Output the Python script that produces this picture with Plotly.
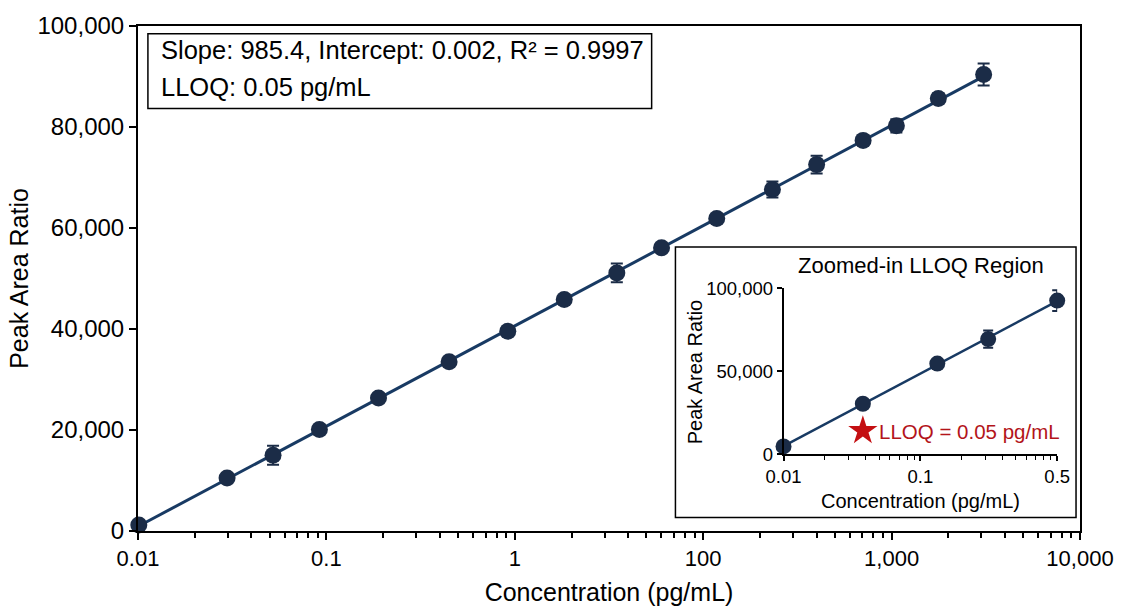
import numpy as np
import plotly.graph_objects as go

# ---------------- data ----------------
conc = [0.0101, 0.0297, 0.0521, 0.0918, 0.189, 0.448, 0.918, 1.83, 3.48, 6.01,
        11.8, 23.3, 40.0, 70.6, 106, 177, 308]
ratio = [1200, 10500, 15000, 20100, 26350, 33530, 39540, 45820, 51110, 56100,
         61860, 67620, 72550, 77350, 80230, 85660, 90400]
ratio_err = [300, 400, 1900, 500, 500, 600, 600, 700, 1870, 700,
             800, 1600, 1760, 900, 1300, 1000, 2180]

x_tickvals = [0.01, 0.1, 1, 10, 100, 1000]
x_ticktext = ["0.01", "0.1", "1", "100", "1,000", "10,000"]
y_tickvals = [0, 20000, 40000, 60000, 80000, 100000]

inset_conc = [0.01, 0.038, 0.133, 0.313, 1.0]
inset_ratio = [4850, 30530, 54700, 69470, 92640]
inset_err = [0, 0, 2500, 5150, 6300]
inset_x_tickvals = [0.01, 0.1, 1]
inset_x_ticktext = ["0.01", "0.1", "0.5"]
inset_y_tickvals = [0, 50000, 100000]

lloq_conc = [0.038]
lloq_ratio = [14300]

fit_text_1 = "Slope: 985.4, Intercept: 0.002, R\u00b2 = 0.9997"
fit_text_2 = "LLOQ: 0.05 pg/mL"

# ---------------- styling ----------------
FONT = "Liberation Sans, Arial, sans-serif"
NAVY = "#1b2c47"
LINE = "#183a63"
RED = "#c40f12"

def fit_line(xs, ys):
    lx = np.log10(np.array(xs, dtype=float))
    b, a = np.polyfit(lx, np.array(ys, dtype=float), 1)
    xe = np.array([xs[0], xs[-1]], dtype=float)
    return xe, a + b * np.log10(xe)

fx, fy = fit_line(conc, ratio)
ifx, ify = fit_line(inset_conc, inset_ratio)

fig = go.Figure()

# main chart
fig.add_trace(go.Scatter(x=fx, y=fy, mode="lines", line=dict(color=LINE, width=3),
                         xaxis="x", yaxis="y", hoverinfo="skip", cliponaxis=False))
fig.add_trace(go.Scatter(x=conc, y=ratio, mode="markers",
                         marker=dict(color=NAVY, size=17),
                         error_y=dict(type="data", array=ratio_err, color=NAVY,
                                      thickness=2, width=6),
                         xaxis="x", yaxis="y", cliponaxis=False))

# inset chart
fig.add_trace(go.Scatter(x=ifx, y=ify, mode="lines", line=dict(color=LINE, width=2.5),
                         xaxis="x2", yaxis="y2", hoverinfo="skip", cliponaxis=False))
fig.add_trace(go.Scatter(x=inset_conc, y=inset_ratio, mode="markers",
                         marker=dict(color=NAVY, size=16),
                         error_y=dict(type="data", array=inset_err, color=NAVY,
                                      thickness=2, width=5),
                         xaxis="x2", yaxis="y2", cliponaxis=False))
fig.add_trace(go.Scatter(x=lloq_conc, y=lloq_ratio, mode="markers",
                         marker=dict(symbol="star", color=RED, size=22),
                         xaxis="x2", yaxis="y2", cliponaxis=False))

main_minor = [k * 10.0 ** d for d in range(-2, 3) for k in range(2, 10)]
inset_minor = [k * 10.0 ** d for d in range(-2, 0) for k in range(2, 10)]

# plot area: x 138..1088, y 17..538
W, H = 1126, 614
L, R, T, B = 138, 38, 17, 76
PW, PH = W - L - R, H - T - B

def px(x):
    return (x - L) / PW

def py(y):
    return (H - B - y) / PH

fig.update_layout(
    width=W, height=H,
    margin=dict(l=L, r=R, t=T, b=B),
    paper_bgcolor="white", plot_bgcolor="white",
    showlegend=False,
    font=dict(family=FONT, color="black"),
    xaxis=dict(type="log", range=[-2, 3], domain=[0, 1], anchor="y",
               tickmode="array", tickvals=x_tickvals, ticktext=x_ticktext,
               tickfont=dict(size=22), ticks="outside", ticklen=7, tickwidth=1.5,
               tickcolor="black",
               minor=dict(tickmode="array", tickvals=main_minor, ticks="outside",
                          ticklen=5, tickwidth=1.5, tickcolor="black"),
               showline=True, linecolor="black", linewidth=2, mirror=True,
               showgrid=False, zeroline=False,
               title=dict(text="Concentration (pg/mL)", font=dict(size=25), standoff=13)),
    yaxis=dict(range=[0, 100000], domain=[0, 1], anchor="x",
               tickmode="array", tickvals=y_tickvals, tickformat=",",
               tickfont=dict(size=24), ticks="outside", ticklen=7, tickwidth=1.5,
               tickcolor="black",
               showline=True, linecolor="black", linewidth=2, mirror=True,
               showgrid=False, zeroline=False,
               title=dict(text="Peak Area Ratio", font=dict(size=25), standoff=2)),
    xaxis2=dict(type="log", range=[-2, 0], domain=[px(789), px(1065)], anchor="y2",
                tickmode="array", tickvals=inset_x_tickvals, ticktext=inset_x_ticktext,
                tickfont=dict(size=18.5), ticks="outside", ticklen=5, tickwidth=1.5,
                tickcolor="black",
                minor=dict(tickmode="array", tickvals=inset_minor, ticks="outside",
                           ticklen=4, tickwidth=1.2, tickcolor="black"),
                showline=True, linecolor="black", linewidth=1.5,
                showgrid=False, zeroline=False),
    yaxis2=dict(range=[0, 100000], domain=[py(459), py(287.7)], anchor="x2",
                tickmode="array", tickvals=inset_y_tickvals, tickformat=",",
                tickfont=dict(size=18.5), ticks="outside", ticklen=5, tickwidth=1.5,
                tickcolor="black",
                showline=True, linecolor="black", linewidth=1.5,
                showgrid=False, zeroline=False),
    shapes=[
        dict(type="rect", xref="paper", yref="paper",
             x0=px(148), x1=px(656), y0=py(102), y1=py(25),
             line=dict(color="black", width=1.5), fillcolor="white", layer="below"),
        dict(type="rect", xref="paper", yref="paper",
             x0=px(680), x1=px(1084), y0=py(524), y1=py(245),
             line=dict(color="black", width=1.5), fillcolor="white", layer="below"),
    ],
    annotations=[
        dict(text=fit_text_1, xref="paper", yref="paper", x=px(159), y=py(42),
             xanchor="left", yanchor="middle", showarrow=False, font=dict(size=25.5)),
        dict(text=fit_text_2, xref="paper", yref="paper", x=px(159), y=py(80),
             xanchor="left", yanchor="middle", showarrow=False, font=dict(size=25.5)),
        dict(text="Zoomed-in LLOQ Region", xref="paper", yref="paper",
             x=px(928), y=py(264), xanchor="center", yanchor="middle",
             showarrow=False, font=dict(size=22)),
        dict(text="Concentration (pg/mL)", xref="paper", yref="paper",
             x=px(927), y=py(507), xanchor="center", yanchor="middle",
             showarrow=False, font=dict(size=20)),
        dict(text="Peak Area Ratio", xref="paper", yref="paper",
             x=px(700), y=py(374), xanchor="center", yanchor="middle", textangle=-90,
             showarrow=False, font=dict(size=20)),
        dict(text="LLOQ = 0.05 pg/mL", xref="paper", yref="paper",
             x=px(883), y=py(435), xanchor="left", yanchor="middle",
             showarrow=False, font=dict(size=20.5, color="#b3141a")),
    ],
)

fig.write_html("out.html")
